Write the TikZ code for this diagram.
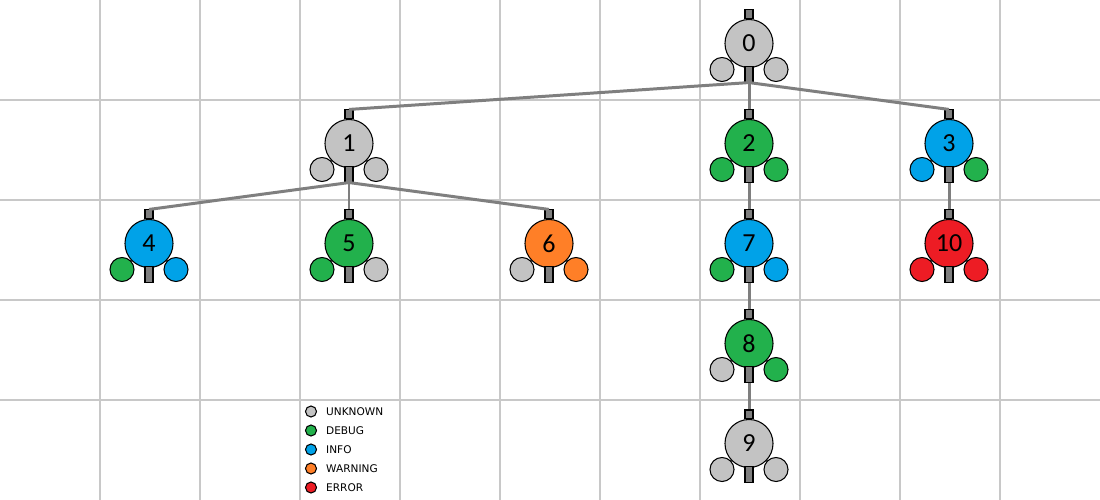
\documentclass[tikz,border=0pt]{standalone}
\usepackage{fontspec}
\setmainfont{Carlito}
\newfontfamily\legendfont{DejaVu Sans}
\definecolor{unknown}{HTML}{C3C3C3}
\definecolor{debug}{HTML}{22B14C}
\definecolor{info}{HTML}{00A2E8}
\definecolor{warning}{HTML}{FF7F27}
\definecolor{error}{HTML}{ED1C24}
\definecolor{tabgray}{HTML}{7F7F7F}
\definecolor{gridgray}{HTML}{C8C8C8}
%% \lognode{name}{x}{y}{level}{left level}{right level}{label}
\newcommand{\lognode}[7]{%
  \draw[stub] (#2,#3) -- (#2-27,#3+26);
  \draw[stub] (#2,#3) -- (#2+27,#3+26);
  \node[mini,fill=#5] (#1l) at (#2-27,#3+26) {};
  \node[mini,fill=#6] (#1r) at (#2+27,#3+26) {};
  \node[big,fill=#4] (#1) at (#2,#3) {#7};
  \node[tab,minimum height=0.085cm,anchor=south] (#1t) at (#2,#3-24.5) {};
  \node[tab,minimum height=0.155cm,anchor=north] (#1b) at (#2,#3+22.5) {};
}
\begin{document}
\begin{tikzpicture}[x=0.01cm,y=-0.01cm,
    big/.style={circle,draw=black,line width=0.3pt,minimum size=0.48cm,inner sep=0pt,
      font=\fontsize{7.4}{8}\selectfont},
    mini/.style={circle,draw=black,line width=0.3pt,minimum size=0.24cm,inner sep=0pt},
    tab/.style={rectangle,draw=black,fill=tabgray,line width=0.3pt,minimum width=0.08cm,inner sep=0pt},
    stub/.style={draw=tabgray!80!black,line width=0.6pt},
    link/.style={draw=tabgray,line width=0.85pt},
    key/.style={circle,draw=black,line width=0.3pt,minimum size=0.11cm,inner sep=0pt},
    keytext/.style={anchor=west,inner sep=0pt,font=\legendfont\fontsize{3}{3.6}\selectfont}]
    \useasboundingbox[fill=white] (0,0) rectangle (1100,500);
    %% grid
    \foreach \gx in {100,200,...,1000}
        \draw[gridgray,line width=0.3pt] (\gx,0) -- (\gx,500);
    \foreach \gy in {100,200,300,400}
        \draw[gridgray,line width=0.3pt] (0,\gy) -- (1100,\gy);
    %% nodes
    \lognode{n0}{749}{43.5}{unknown}{unknown}{unknown}{0}
    \lognode{n1}{349}{143.5}{unknown}{unknown}{unknown}{1}
    \lognode{n2}{749}{143.5}{debug}{debug}{debug}{2}
    \lognode{n3}{949}{143.5}{info}{info}{debug}{3}
    \lognode{n4}{149}{243.5}{info}{debug}{info}{4}
    \lognode{n5}{349}{243.5}{debug}{debug}{unknown}{5}
    \lognode{n6}{549}{243.5}{warning}{unknown}{warning}{6}
    \lognode{n7}{749}{243.5}{info}{debug}{info}{7}
    \lognode{n10}{949}{243.5}{error}{error}{error}{10}
    \lognode{n8}{749}{343.5}{debug}{unknown}{debug}{8}
    \lognode{n9}{749}{443.5}{unknown}{unknown}{unknown}{9}
    %% links
    \foreach \from/\to in {n0/n1,n0/n2,n0/n3,n1/n4,n1/n5,n1/n6,n2/n7,n3/n10,n7/n8,n8/n9}
        \draw[link] (\from b.south) -- (\to t.north);
    %% legend
    \foreach \lvl/\txt [count=\i] in {unknown/UNKNOWN,debug/DEBUG,info/INFO,warning/WARNING,error/ERROR} {
        \node[key,fill=\lvl] (key\i) at (311,392.5+19*\i) {};
        \node[keytext] (keytext\i) at (325.5,392.5+19*\i) {\txt};
    }
\end{tikzpicture}
\end{document}
